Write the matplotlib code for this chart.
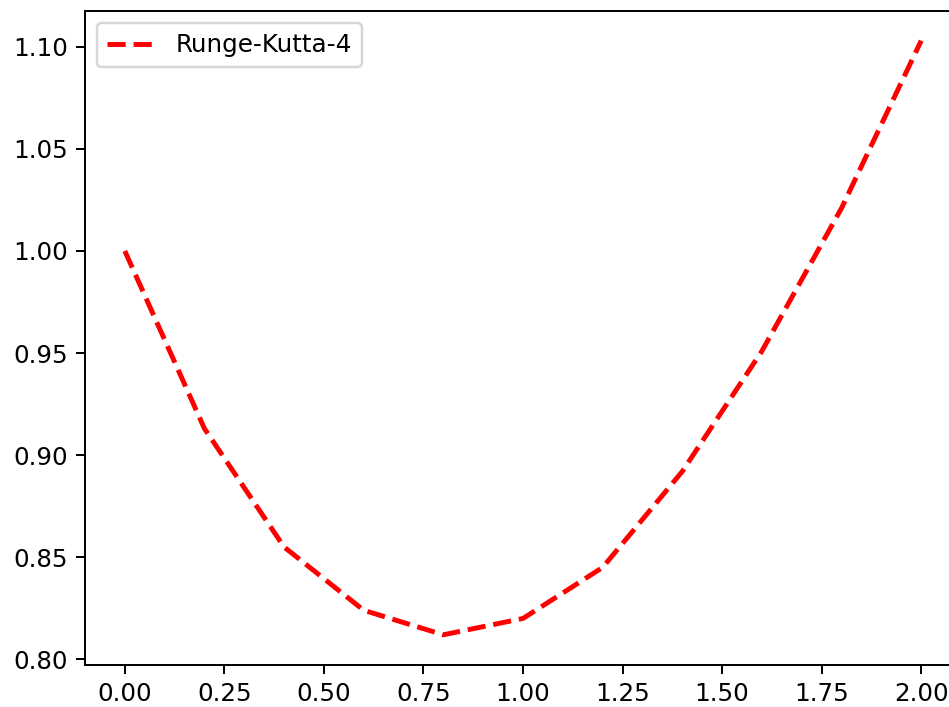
import matplotlib
matplotlib.use('Agg')
import matplotlib.pyplot as plt

# RK4 solution points (h = 0.2)
x_vals = [0.0, 0.2, 0.4, 0.6, 0.8, 1.0, 1.2, 1.4, 1.6, 1.8, 2.0]
y_rk4 = [1.000, 0.913, 0.855, 0.824, 0.812, 0.820, 0.845, 0.892, 0.951, 1.021, 1.103]

dpi = 177
fig = plt.figure(figsize=(950 / dpi, 707 / dpi), dpi=dpi)
# the reference is cropped on the right, so the axes runs past the edge
ax = fig.add_axes([85 / 950, 42.5 / 707, 876 / 950, 653.5 / 707])
ax.plot(x_vals, y_rk4, 'r--', lw=2, label='Runge-Kutta-4')
ax.set_xticks([0, 0.25, 0.5, 0.75, 1.0, 1.25, 1.5, 1.75, 2.0])
ax.set_yticks([0.80, 0.85, 0.90, 0.95, 1.00, 1.05, 1.10])
ax.legend(loc='upper left')
fig.savefig('out.png', dpi=dpi)
